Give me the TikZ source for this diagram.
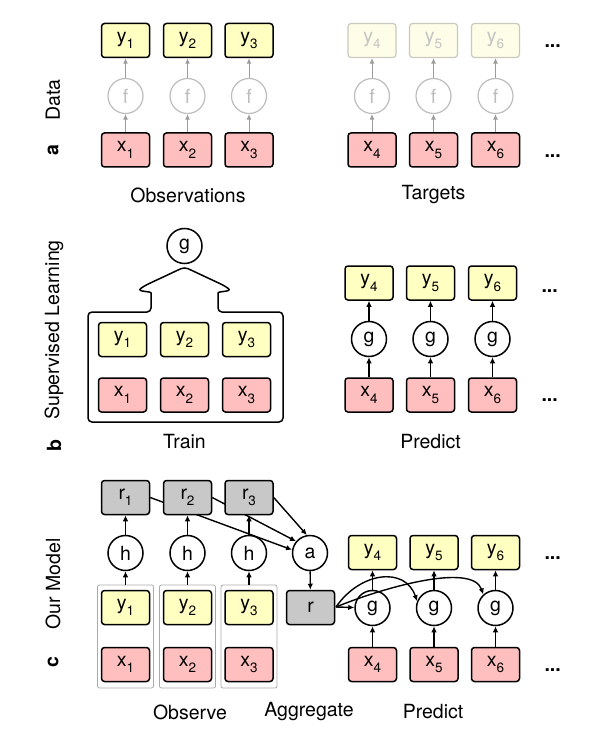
\documentclass[tikz,border=0pt]{standalone}
\usepackage{fontspec}
\setmainfont{TeX Gyre Heros}
\usetikzlibrary{arrows.meta,backgrounds}
\newcommand\mysub[1]{\raisebox{-0.32em}{\fontsize{13.5}{14}\selectfont #1}}
\definecolor{yel}{HTML}{FFFFC2}
\definecolor{pnk}{HTML}{FFBFBF}
\definecolor{gry}{HTML}{C8C8C8}
\definecolor{fadeyel}{HTML}{FDFDE8}
\definecolor{fadeline}{HTML}{C9C9BF}
\definecolor{fadetext}{HTML}{C4C4C4}
\definecolor{fadecirc}{HTML}{BDBDBD}
\definecolor{fadearr}{HTML}{9C9C9C}
\definecolor{grpline}{HTML}{AAAAAA}
\begin{document}
\begin{tikzpicture}[x=1pt,y=-1pt,font=\fontsize{19.5}{22}\selectfont,
 box/.style={draw,line width=1.5pt,rounded corners=3pt,minimum width=48pt,minimum height=34pt,inner sep=0pt},
 ybox/.style={box,fill=yel},
 xbox/.style={box,fill=pnk},
 rbox/.style={box,fill=gry},
 fadebox/.style={box,fill=fadeyel,draw=fadeline,text=fadetext,line width=1.2pt},
 cnode/.style={circle,draw,line width=1.5pt,minimum size=35pt,inner sep=0pt,fill=white},
 fnode/.style={cnode,draw=fadecirc,text=fadecirc,line width=1.2pt},
 arr/.style={-{Latex[length=6pt,width=5.5pt]},line width=1.4pt},
 farr/.style={-{Latex[length=5.5pt,width=5pt]},draw=fadearr,line width=1pt},
 grp/.style={draw=grpline,line width=0.8pt,rounded corners=2pt,minimum width=56pt,minimum height=103pt,inner sep=0pt},
 dots/.style={anchor=base west,font=\fontsize{19.5}{22}\selectfont\bfseries},
 side/.style={rotate=90},
 sidebold/.style={rotate=90,font=\fontsize{19.5}{22}\selectfont\bfseries},
 hull/.style={draw,line width=1.5pt,rounded corners=4pt},
]
\useasboundingbox (0,0) rectangle (593,751);

% ---------------- side labels
\node[side] (lData) at (53,100) {Data};
\node[sidebold] (la) at (53,150) {a};
\node[side] (lSup) at (54,330) {Supervised Learning};
\node[sidebold] (lb) at (54,446) {b};
\node[side] (lOur) at (53,584) {Our Model};
\node[sidebold] (lc) at (53,662) {c};

% ---------------- section a
\foreach \i/\x in {1/125.5,2/187.5,3/249}{
  \node[ybox] (ay\i) at (\x,40.5) {y\mysub{\i}};
  \node[fnode] (af\i) at (\x,96) {f};
  \node[xbox] (ax\i) at (\x,150) {x\mysub{\i}};
  \draw[farr] (ax\i) -- (af\i);
  \draw[farr] (af\i) -- (ay\i);
}
\foreach \i/\x in {4/372,5/433.5,6/495.5}{
  \node[fadebox] (ay\i) at (\x,40.5) {y\mysub{\i}};
  \node[fnode] (af\i) at (\x,96) {f};
  \node[xbox] (ax\i) at (\x,150) {x\mysub{\i}};
  \draw[farr] (ax\i) -- (af\i);
  \draw[farr] (af\i) -- (ay\i);
}
\node[dots] (ad1) at (541,48) {...};
\node[dots] (ad2) at (541,158) {...};
\node (lObs) at (188,195) {Observations};
\node (lTar) at (433.5,195) {Targets};

% ---------------- section b
\node[cnode] (bg) at (184.5,246) {g};
\draw[hull] (151,312) -- (88,312) -- (88,422) -- (283,422) -- (283,312) -- (218,312) -- (218,297)
  .. controls (218,291) and (233,292) .. (225,286) -- (184.5,267) -- (144,286)
  .. controls (136,292) and (151,291) .. (151,297) -- cycle;
\foreach \i/\x in {1/122.5,2/184.5,3/246.5}{
  \node[ybox] (by\i) at (\x,339.5) {y\mysub{\i}};
  \node[xbox] (bx\i) at (\x,395) {x\mysub{\i}};
}
\node (lTrain) at (184.5,442) {Train};
\foreach \i/\x in {4/369,5/430.5,6/492.5}{
  \node[ybox] (by\i) at (\x,283) {y\mysub{\i}};
  \node[cnode] (bg\i) at (\x,339) {g};
  \node[xbox] (bx\i) at (\x,395) {x\mysub{\i}};
  \draw[arr] (bx\i) -- (bg\i);
  \draw[arr] (bg\i) -- (by\i);
}
\node[dots] (bd1) at (538,292) {...};
\node[dots] (bd2) at (538,401) {...};
\node (lPred) at (430.5,442) {Predict};

% ---------------- section c
\foreach \i/\x in {1/125.5,2/187.5,3/249}{
  \node[grp] (cgrp\i) at (\x,636.5) {};
  \node[ybox] (cy\i) at (\x,607.5) {y\mysub{\i}};
  \node[xbox] (cx\i) at (\x,664.5) {x\mysub{\i}};
  \node[cnode] (ch\i) at (\x,553) {h};
  \node[rbox] (cr\i) at (\x,497.5) {r\mysub{\i}};
  \draw[arr] (cgrp\i) -- (ch\i);
  \draw[arr] (ch\i) -- (cr\i);
}
\node[cnode] (ca) at (310,553) {a};
\node[rbox] (cr) at (310.5,607.5) {r};
\begin{scope}[on background layer]
  \draw[arr] (cr1.east) -- (ca.170);
  \draw[arr] (cr2.east) -- (ca.140);
\end{scope}
\draw[arr] (cr3.east) -- (ca.100);
\draw[arr] (ca) -- (cr);
\foreach \i/\x in {4/372.5,5/434,6/495.5}{
  \node[ybox] (cy\i) at (\x,552.5) {y\mysub{\i}};
  \node[cnode] (cg\i) at (\x,608) {g};
  \node[xbox] (cx\i) at (\x,664.5) {x\mysub{\i}};
  \draw[arr] (cx\i) -- (cg\i);
  \draw[arr] (cg\i) -- (cy\i);
}
\coordinate (rs) at (336,607);
\draw[arr] (rs) -- (cg4);
\draw[arr] (rs) .. controls (360,572) and (405,566) .. (cg5.158);
\draw[arr] (rs) .. controls (382,588) and (472,562) .. (cg6.132);
\node[dots] (cd1) at (541,559) {...};
\node[dots] (cd2) at (541,671) {...};
\node (lObserve) at (190,712) {Observe};
\node (lAgg) at (309,712) {Aggregate};
\node (lPred2) at (433,712) {Predict};
\end{tikzpicture}
\end{document}
